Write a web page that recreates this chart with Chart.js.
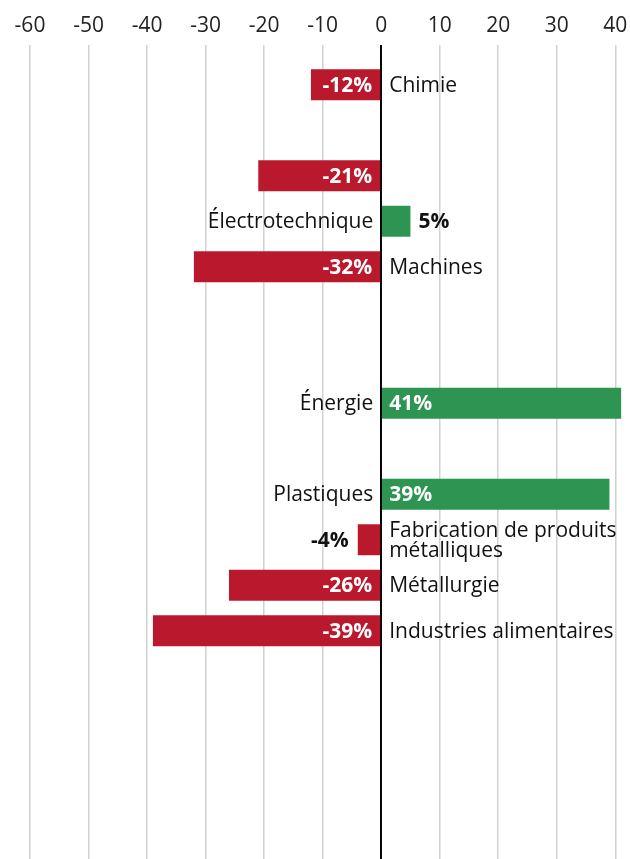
<!DOCTYPE html>
<html>
<head>
<meta charset="utf-8">
<script src="https://cdn.jsdelivr.net/npm/chart.js@4.4.0/dist/chart.umd.min.js"></script>
<style>
  html, body { margin: 0; padding: 0; background: #fff; overflow: hidden; }
  #wrap { width: 630px; height: 882px; position: relative; }
</style>
</head>
<body>
<div id="wrap"><canvas id="chartBranches"></canvas></div>
<script>
// branches, one per row (empty rows keep the spacing)
var branches = [
    'Chimie', '', '', 'Électrotechnique', 'Machines', '', '', 'Énergie', '',
    'Plastiques', ['Fabrication de produits', 'métalliques'], 'Métallurgie',
    'Industries alimentaires', '', '', '', '', ''
];

// variation in percent
var variation = [
    -12, null, -21, 5, -32, null, null, 41, null,
    39, -4, -26,
    -39, null, null, null, null, null
];

var xTicks = [-60, -50, -40, -30, -20, -10, 0, 10, 20, 30, 40];

var red = '#BA182D';
var green = '#2D9551';
var font = '"Open Sans", sans-serif';

// labels next to / inside the bars + zero line on top
var barLabels = {
    id: 'barLabels',
    afterDatasetsDraw: function (chart) {
        var ctx = chart.ctx;
        var meta = chart.getDatasetMeta(0);
        var xScale = chart.scales.x;
        var zero = xScale.getPixelForValue(0);

        ctx.save();
        ctx.textBaseline = 'middle';

        meta.data.forEach(function (bar, i) {
            var v = variation[i];
            if (v === null) return;
            var y = bar.y + 1;
            var txt = v + '%';
            ctx.font = 'bold 21px ' + font;
            var w = ctx.measureText(txt).width;
            var barW = Math.abs(bar.x - bar.base);
            var inside = w + 16 < barW;

            if (v < 0) {
                ctx.textAlign = 'right';
                ctx.fillStyle = inside ? '#fff' : '#111';
                ctx.fillText(txt, inside ? zero - 9 : bar.x - 9, y);
            } else {
                ctx.textAlign = 'left';
                ctx.fillStyle = inside ? '#fff' : '#111';
                ctx.fillText(txt, inside ? zero + 8 : bar.x + 8, y);
            }

            // branch name on the other side of zero
            var name = branches[i];
            var lines = Array.isArray(name) ? name : [name];
            ctx.font = '21px ' + font;
            ctx.fillStyle = '#111';
            ctx.textAlign = v < 0 ? 'left' : 'right';
            var lx = v < 0 ? zero + 8 : zero - 8;
            lines.forEach(function (line, k) {
                ctx.fillText(line, lx, y + (k - (lines.length - 1) / 2) * 20);
            });
        });

        ctx.strokeStyle = '#000';
        ctx.lineWidth = 1.5;
        ctx.beginPath();
        ctx.moveTo(zero, xScale.bottom - 17);
        ctx.lineTo(zero, chart.chartArea.bottom);
        ctx.stroke();
        ctx.restore();
    }
};

var ctx = document.getElementById('chartBranches').getContext('2d');
var myChart = new Chart(ctx, {
    type: 'bar',
    data: {
        labels: branches,
        datasets: [
            {
                data: variation,
                backgroundColor: variation.map(function (v) { return v < 0 ? red : green; }),
                borderWidth: 0,
                barPercentage: 0.68,
                categoryPercentage: 1
            }
        ]
    },
    options: {
        indexAxis: 'y',
        responsive: true,
        maintainAspectRatio: false,
        animation: false,
        layout: {
            padding: { left: 30, right: 3, top: 0, bottom: 1 }
        },
        scales: {
            x: {
                position: 'top',
                min: -60,
                max: 42,
                afterBuildTicks: function (scale) {
                    scale.ticks = xTicks.map(function (v) { return { value: v }; });
                },
                afterFit: function (scale) {
                    scale.height = 62;
                    // edge labels fit inside the padding already
                    scale.paddingLeft = 0;
                    scale.paddingRight = 0;
                },
                border: { display: false },
                grid: {
                    color: function (c) { return c.tick && c.tick.value === 0 ? '#000' : '#d2d2d2'; },
                    lineWidth: 1.5,
                    tickLength: 17
                },
                ticks: {
                    padding: 6,
                    color: '#222',
                    font: { family: font, size: 21 },
                    callback: function (v) { return v; }
                }
            },
            y: {
                display: false
            }
        },
        plugins: {
            legend: { display: false },
            tooltip: { enabled: false }
        }
    },
    plugins: [barLabels]
});
</script>
</body>
</html>
